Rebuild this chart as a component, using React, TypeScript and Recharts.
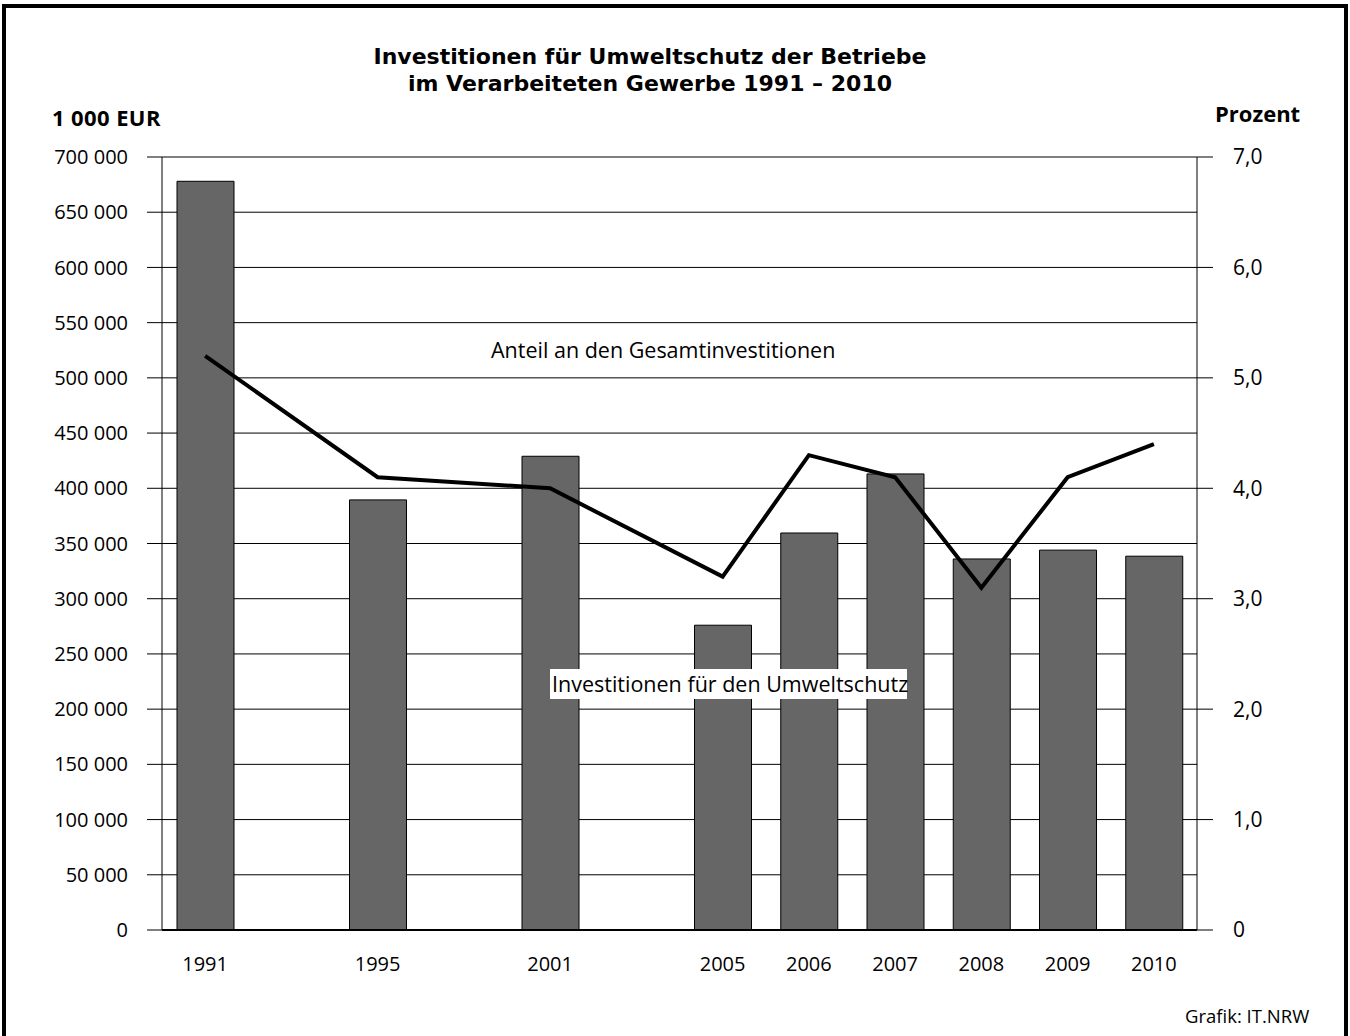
import { Bar, CartesianGrid, ComposedChart, Line, XAxis, YAxis } from 'recharts';

// Leere Slots zwischen 1991, 1995, 2001 und 2005 halten den Abstand wie im Original
const years = ['1991', 'gap1', '1995', 'gap2', '2001', 'gap3', '2005', '2006', '2007', '2008', '2009', '2010'];
const investments = [678000, null, 389500, null, 429000, null, 276000, 359500, 413000, 336000, 344000, 338500];
const sharePercent = [5.2, null, 4.1, null, 4.0, null, 3.2, 4.3, 4.1, 3.1, 4.1, 4.4];

const leftTicks = [0, 50000, 100000, 150000, 200000, 250000, 300000, 350000, 400000, 450000, 500000, 550000, 600000, 650000, 700000];
const rightTicks = [0, 1, 2, 3, 4, 5, 6, 7];

const titleLines = ['Investitionen für Umweltschutz der Betriebe', 'im Verarbeiteten Gewerbe 1991 – 2010'];

const data = years.map((year, i) => ({
  year,
  invest: investments[i],
  share: sharePercent[i],
}));

const FONT = '"Open Sans", "Noto Sans", sans-serif';
const TITLE_FONT = '"DejaVu Sans", "Liberation Sans", sans-serif';

const fmtThousands = (v: number) => (v === 0 ? '0' : v.toLocaleString('en-US').replace(/,/g, ' '));
const fmtPercent = (v: number) => (v === 0 ? '0' : v.toFixed(1).replace('.', ','));

export default function App() {
  return (
    <div
      style={{
        position: 'absolute',
        left: 0,
        top: 0,
        width: 1350,
        height: 1036,
        overflow: 'hidden',
        background: '#fff',
        fontFamily: FONT,
        color: '#000',
      }}
    >
      <div
        style={{
          position: 'absolute',
          left: 2,
          top: 4,
          width: 1338,
          height: 1050,
          border: '4px solid #000',
        }}
      />

      {titleLines.map((line, i) => (
        <div
          key={line}
          style={{
            position: 'absolute',
            left: 0,
            width: 1300,
            top: 43 + i * 27,
            height: 27,
            textAlign: 'center',
            fontFamily: TITLE_FONT,
            fontWeight: 700,
            fontSize: 22,
            lineHeight: '27px',
            whiteSpace: 'nowrap',
          }}
        >
          {line}
        </div>
      ))}

      <div style={{ position: 'absolute', left: 52, top: 102, fontWeight: 700, fontSize: 22, letterSpacing: 0.4 }}>
        1 000 EUR
      </div>
      <div style={{ position: 'absolute', left: 1215, top: 98, fontWeight: 700, fontSize: 22 }}>Prozent</div>

      <ComposedChart
        width={1350}
        height={1036}
        data={data}
        margin={{ top: 157, right: 0, bottom: 0, left: 0 }}
        style={{ position: 'absolute', left: 0, top: 0 }}
      >
        <CartesianGrid yAxisId="left" vertical={false} stroke="#000" strokeWidth={1} />
        <XAxis
          dataKey="year"
          height={106}
          tickLine={false}
          tickSize={0}
          tickMargin={27}
          axisLine={{ stroke: '#000', strokeWidth: 2 }}
          interval={0}
          tickFormatter={(v: string) => (v.startsWith('gap') ? '' : v)}
          tick={{ fill: '#000', fontSize: 20, fontFamily: FONT }}
        />
        <YAxis
          yAxisId="left"
          orientation="left"
          width={162}
          domain={[0, 700000]}
          ticks={leftTicks}
          interval={0}
          tickSize={15}
          tickMargin={19}
          tickLine={{ stroke: '#000' }}
          axisLine={{ stroke: '#000' }}
          tickFormatter={fmtThousands}
          tick={{ fill: '#000', fontSize: 20, fontFamily: FONT }}
        />
        <YAxis
          yAxisId="right"
          orientation="right"
          width={153}
          domain={[0, 7]}
          ticks={rightTicks}
          interval={0}
          tickSize={16}
          tickMargin={20}
          tickLine={{ stroke: '#000' }}
          axisLine={{ stroke: '#000' }}
          tickFormatter={fmtPercent}
          tick={{ fill: '#000', fontSize: 21, fontFamily: FONT }}
        />
        <Bar
          yAxisId="left"
          dataKey="invest"
          barSize={57}
          fill="#666666"
          stroke="#000"
          strokeWidth={1}
          isAnimationActive={false}
        />
        <Line
          yAxisId="right"
          dataKey="share"
          type="linear"
          stroke="#000"
          strokeWidth={4}
          dot={false}
          activeDot={false}
          connectNulls
          isAnimationActive={false}
        />
      </ComposedChart>

      <div style={{ position: 'absolute', left: 491, top: 335, fontSize: 21.5, whiteSpace: 'nowrap' }}>
        Anteil an den Gesamtinvestitionen
      </div>
      <div
        style={{
          position: 'absolute',
          left: 550,
          top: 669,
          width: 357,
          height: 30,
          lineHeight: '30px',
          paddingLeft: 2,
          boxSizing: 'border-box',
          background: '#fff',
          fontSize: 21.5,
          whiteSpace: 'nowrap',
        }}
      >
        Investitionen für den Umweltschutz
      </div>

      <div style={{ position: 'absolute', left: 1185, top: 1003, fontSize: 18.5, whiteSpace: 'nowrap' }}>
        Grafik: IT.NRW
      </div>
    </div>
  );
}
